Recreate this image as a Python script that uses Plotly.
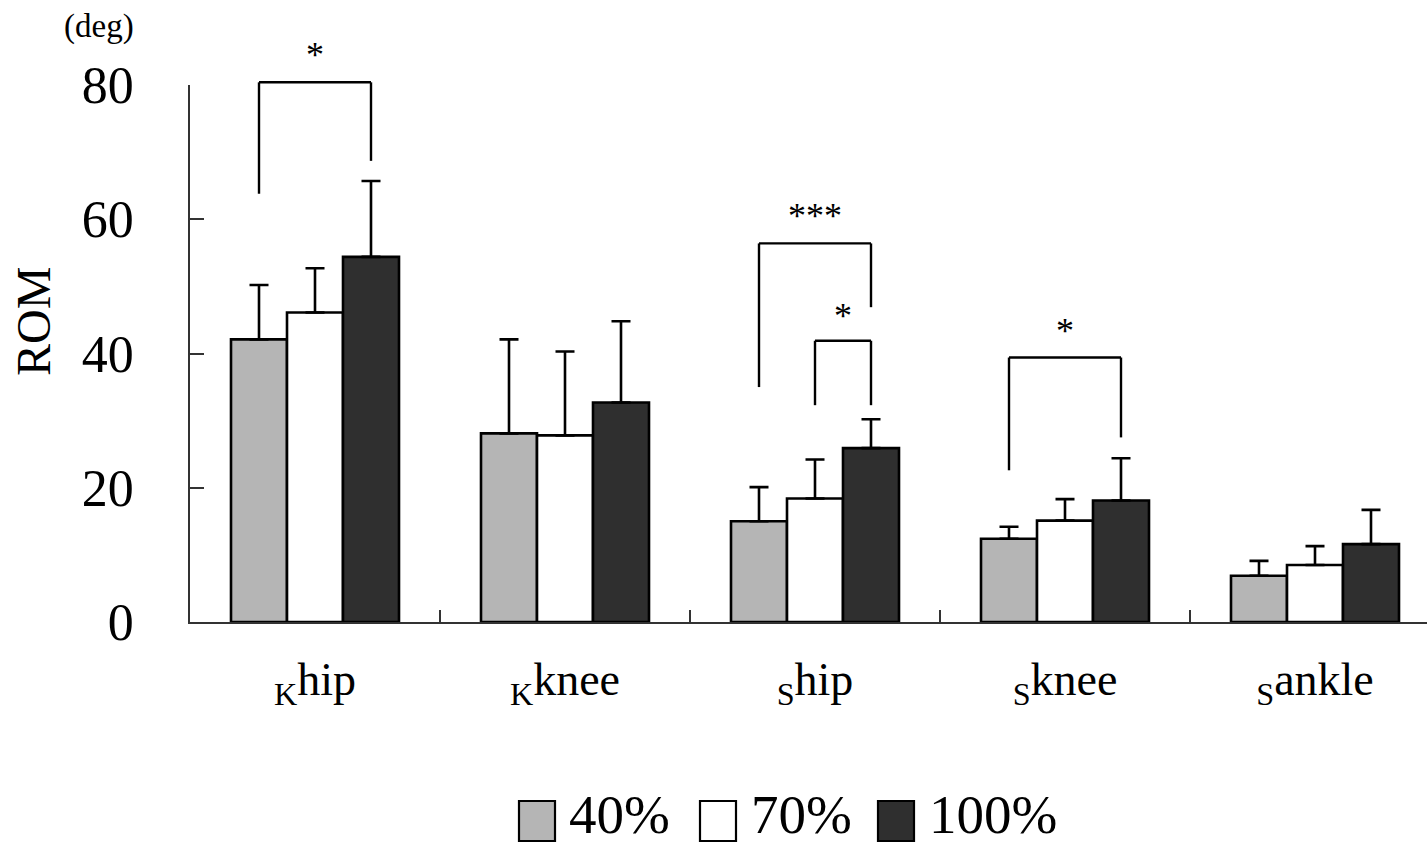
import plotly.graph_objects as go

# ---------------- data ----------------
categories = ["<sub>K</sub>hip", "<sub>K</sub>knee", "<sub>S</sub>hip", "<sub>S</sub>knee", "<sub>S</sub>ankle"]
series_names = ["40%", "70%", "100%"]
mean_40 = [42.1, 28.1, 15.0, 12.4, 6.9]
mean_70 = [46.1, 27.8, 18.4, 15.1, 8.5]
mean_100 = [54.4, 32.7, 25.9, 18.1, 11.6]
sd_40 = [8.1, 14.0, 5.1, 1.8, 2.2]
sd_70 = [6.6, 12.5, 5.8, 3.2, 2.8]
sd_100 = [11.3, 12.1, 4.3, 6.3, 5.1]
y_ticks = [0, 20, 40, 60, 80]

# significance brackets: category, from series, to series, top, left leg end, right leg end, label, label y
br_cat = [0, 2, 2, 3]
br_from = [0, 0, 1, 0]
br_to = [2, 2, 2, 2]
br_top = [80.4, 56.4, 41.9, 39.4]
br_left_end = [63.8, 35.0, 32.3, 22.6]
br_right_end = [68.7, 46.9, 32.3, 27.5]
br_label = ["*", "***", "*", "*"]
br_label_y = [84.8, 60.8, 45.9, 43.6]

# ---------------- style ----------------
W, H = 1427, 848
ML, MR, MT, MB = 190, 0, 85, 226
FONT = "Liberation Serif, Times New Roman, serif"
colors = ["#b5b5b5", "#ffffff", "#2f2f2f"]
BARGAP = 0.328
YMAX = 80
nser = 3
bw = (1 - BARGAP) / nser


def off(i):
    return (i - (nser - 1) / 2) * bw


def ypaper(v):
    return v / YMAX


def px_x(px):
    return (px - ML) / (W - ML - MR)


def px_y(py):
    return (H - MB - py) / (H - MT - MB)


means = [mean_40, mean_70, mean_100]
sds = [sd_40, sd_70, sd_100]

fig = go.Figure()
for i in range(nser):
    fig.add_trace(go.Bar(
        x=categories, y=means[i], name=series_names[i],
        marker=dict(color=colors[i], line=dict(color="black", width=2.6)),
        error_y=dict(type="data", array=sds[i], symmetric=False, arrayminus=[0] * len(categories),
                     color="black", thickness=2.6, width=9.5),
        showlegend=False,
    ))

shapes = []
annotations = []
for k in range(len(br_cat)):
    xl = br_cat[k] + off(br_from[k])
    xr = br_cat[k] + off(br_to[k])
    line = dict(color="black", width=2.4)
    shapes.append(dict(type="line", xref="x", yref="paper", x0=xl, x1=xl,
                       y0=ypaper(br_left_end[k]), y1=ypaper(br_top[k]), line=line))
    shapes.append(dict(type="line", xref="x", yref="paper", x0=xl, x1=xr,
                       y0=ypaper(br_top[k]), y1=ypaper(br_top[k]), line=line))
    shapes.append(dict(type="line", xref="x", yref="paper", x0=xr, x1=xr,
                       y0=ypaper(br_right_end[k]), y1=ypaper(br_top[k]), line=line))
    annotations.append(dict(x=(xl + xr) / 2, y=ypaper(br_label_y[k]), xref="x", yref="paper",
                            text=br_label[k], showarrow=False, xanchor="center", yanchor="middle",
                            yshift=-2, font=dict(family=FONT, size=36, color="black")))

# custom legend (large rectangles)
leg_sq_x = [519, 700, 878]
leg_txt_x = [568, 750, 928]
leg_y0, leg_y1 = 801, 841
for i in range(nser):
    shapes.append(dict(type="rect", xref="paper", yref="paper",
                       x0=px_x(leg_sq_x[i]), x1=px_x(leg_sq_x[i] + 36),
                       y0=px_y(leg_y1), y1=px_y(leg_y0),
                       fillcolor=colors[i], line=dict(color="black", width=2.2)))
    annotations.append(dict(x=px_x(leg_txt_x[i]), y=px_y(H), xref="paper", yref="paper",
                            text=series_names[i], showarrow=False, xanchor="left", yanchor="bottom",
                            borderpad=0, yshift=2,
                            font=dict(family=FONT, size=55, color="black")))

annotations.append(dict(x=px_x(33), y=px_y(322), xref="paper", yref="paper", text="ROM",
                        textangle=-90, showarrow=False, xanchor="center", yanchor="middle",
                        font=dict(family=FONT, size=48, color="black")))
annotations.append(dict(x=px_x(99), y=px_y(26), xref="paper", yref="paper", text="(deg)",
                        showarrow=False, xanchor="center", yanchor="middle",
                        font=dict(family=FONT, size=33, color="black")))

fig.update_layout(
    width=W, height=H,
    margin=dict(l=ML, r=MR, t=MT, b=MB, autoexpand=False),
    paper_bgcolor="white", plot_bgcolor="white",
    barmode="group", bargap=BARGAP, bargroupgap=0,
    shapes=shapes, annotations=annotations,
    font=dict(family=FONT, color="black"),
    xaxis=dict(
        range=[-0.5, -0.5 + (W - ML - MR) / 250], showline=True, linecolor="#333", linewidth=1.5,
        ticks="inside", tickson="boundaries", ticklen=12, tickcolor="#333", tickwidth=1.5,
        tickfont=dict(family=FONT, size=46, color="black"), ticklabelstandoff=16,
        showgrid=False, zeroline=False, fixedrange=True,
    ),
    yaxis=dict(
        range=[0, YMAX], tickvals=y_ticks, showline=True, linecolor="#333", linewidth=1.5,
        ticks="inside", ticklen=14, tickcolor="#333", tickwidth=1.5,
        tickfont=dict(family=FONT, size=52, color="black"), ticklabelstandoff=44,
        showgrid=False, zeroline=False, fixedrange=True,
    ),
)

fig.write_html("out.html", config={"displayModeBar": False},
               post_script="document.body.style.margin='0px';")
